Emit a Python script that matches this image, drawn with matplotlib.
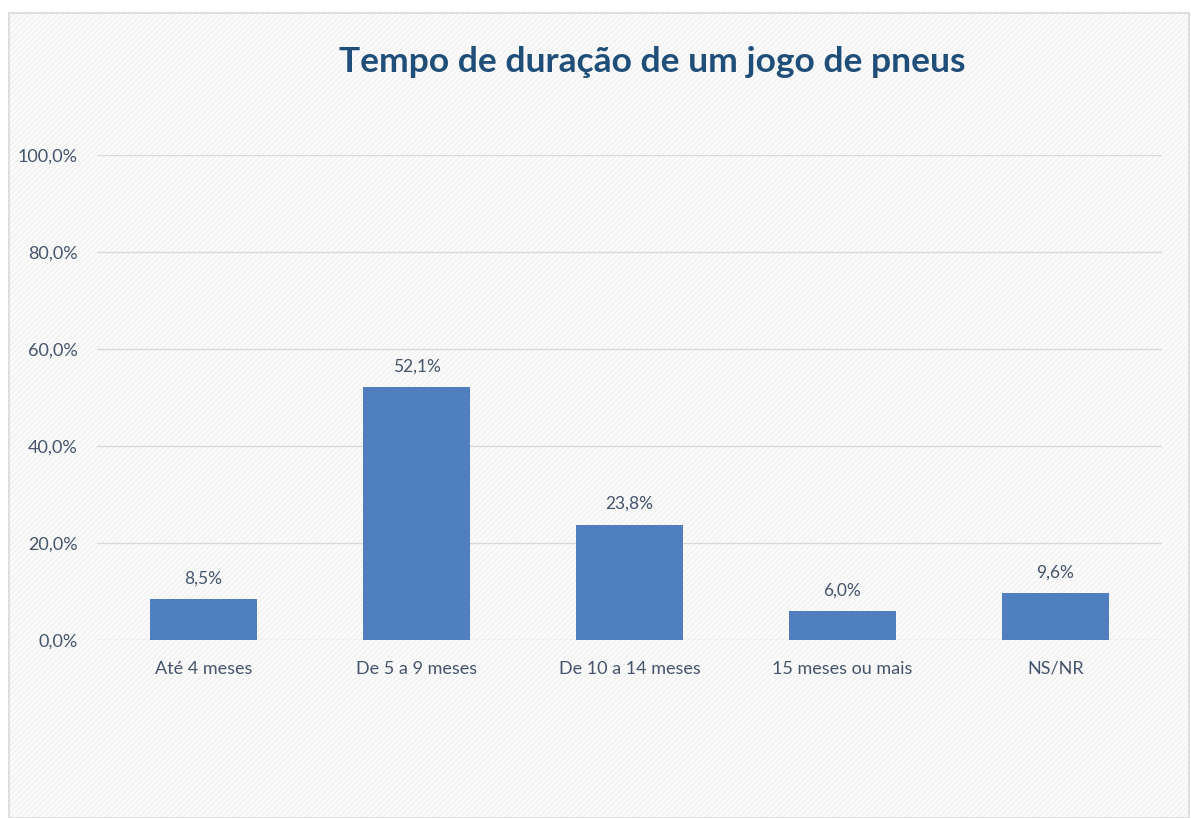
import matplotlib
matplotlib.use("Agg")
import matplotlib.pyplot as plt
from matplotlib.patches import Rectangle
import matplotlib.patheffects as pe

categorias = ["Até 4 meses", "De 5 a 9 meses", "De 10 a 14 meses", "15 meses ou mais", "NS/NR"]
valores = [8.5, 52.1, 23.8, 6.0, 9.6]
yticks = [0, 20, 40, 60, 80, 100]

plt.rcParams['font.family'] = ['Lato', 'DejaVu Sans']
plt.rcParams['hatch.linewidth'] = 0.6

def pct(v):
    return f"{v:.1f}%".replace(".", ",")

fig = plt.figure(figsize=(11.91, 8.18), dpi=100)
fig.patch.set_facecolor("white")

# chart area with faint diagonal texture and a light border
fundo = Rectangle((9 / 1191, 0), 1 - 9 / 1191 - 2 / 1191, 1 - 13 / 818,
                  transform=fig.transFigure, facecolor="#fafafa",
                  edgecolor="#eeeeee", hatch="//////", linewidth=0, zorder=-2)
fig.patches.append(fundo)
borda = Rectangle((9 / 1191, 0), 1 - 9 / 1191 - 2 / 1191, 1 - 13 / 818,
                  transform=fig.transFigure, facecolor="none",
                  edgecolor="#d9d9d9", linewidth=1.2, zorder=-1)
fig.patches.append(borda)

ax = fig.add_axes([97 / 1191, 178 / 818, 1065 / 1191, 485 / 818])
ax.set_zorder(2)
ax.patch.set_alpha(0)

x = list(range(len(categorias)))
barras = ax.bar(x, valores, width=0.5, color="#4f7fbe", zorder=3)
for b in barras:
    b.set_path_effects([pe.SimplePatchShadow(offset=(0, 0), shadow_rgbFace="#999999", alpha=0.25),
                        pe.Normal()])

for xi, v in zip(x, valores):
    ax.text(xi, v + 2.6, pct(v), ha="center", va="bottom",
            fontsize=12.5, color="#44546a")

ax.set_xlim(-0.5, len(categorias) - 0.5)
ax.set_ylim(0, 100)
ax.set_yticks(yticks)
ax.set_yticklabels([pct(t) for t in yticks])
ax.set_xticks(x)
ax.set_xticklabels(categorias)
ax.tick_params(axis="both", length=0, labelsize=13, labelcolor="#44546a")
ax.tick_params(axis="y", pad=14)
ax.tick_params(axis="x", pad=15)
ax.grid(axis="y", color="#d9d9d9", linewidth=1, zorder=0)
ax.set_axisbelow(True)
for s in ax.spines.values():
    s.set_visible(False)

fig.text(652 / 1191, 1 - 62 / 818, "Tempo de duração de um jogo de pneus",
         ha="center", va="center", fontsize=25.5, fontweight="bold", color="#1f4e79")

fig.savefig("out.png", dpi=100)
